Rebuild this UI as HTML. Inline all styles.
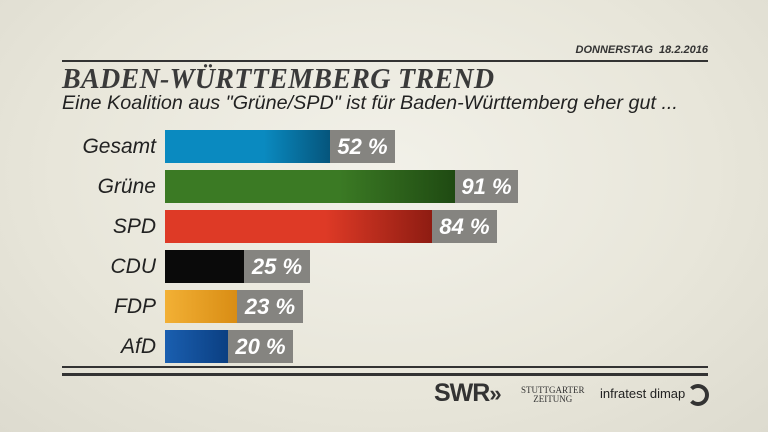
<!DOCTYPE html>
<html><head><meta charset="utf-8"><style>
body{margin:0;width:768px;height:432px;overflow:hidden;font-family:"Liberation Sans",sans-serif;
background:radial-gradient(ellipse at 50% 40%,#f2f1e9 0%,#e8e6da 60%,#dddbcf 100%);position:relative}
.a{position:absolute}
.lab{position:absolute;right:612px;font-style:italic;font-size:21px;color:#222;width:120px;text-align:right}
.bar{position:absolute;left:165px;height:33px}
.box{position:absolute;height:33px;background:#858480;color:#fff;font-style:italic;font-weight:bold;font-size:22px;line-height:33px;text-align:center;width:65px}
</style></head><body>
<div class="a" style="right:60px;top:44px;font-size:11px;font-weight:bold;font-style:italic;color:#333">DONNERSTAG&nbsp; 18.2.2016</div>
<div class="a" style="left:62px;top:60px;width:646px;height:2px;background:#333"></div>
<div class="a" style="left:62px;top:64px;font-family:'Liberation Serif',serif;font-weight:bold;font-style:italic;font-size:28px;color:#3a3a3a;letter-spacing:0.3px">BADEN-WÜRTTEMBERG TREND</div>
<div class="a" style="left:62px;top:93px;font-style:italic;font-size:19px;color:#222;transform:scaleX(1.04);transform-origin:left top;white-space:nowrap">Eine Koalition aus "Grüne/SPD" ist für Baden-Württemberg eher gut ...</div>

<div class="lab" style="top:135px">Gesamt</div>
<div class="bar" style="top:130px;width:165px;background:linear-gradient(90deg,#0a8ac0 60%,#05557c)"></div>
<div class="box" style="left:330px;top:130px">52 %</div>

<div class="lab" style="top:175px">Grüne</div>
<div class="bar" style="top:170px;width:290px;background:linear-gradient(90deg,#3b7a24 60%,#1f4a12)"></div>
<div class="box" style="left:455px;top:170px;width:63px">91 %</div>

<div class="lab" style="top:215px">SPD</div>
<div class="bar" style="top:210px;width:267px;background:linear-gradient(90deg,#de3a26 60%,#8e1c12)"></div>
<div class="box" style="left:432px;top:210px">84 %</div>

<div class="lab" style="top:255px">CDU</div>
<div class="bar" style="top:250px;width:79px;background:#0a0a0a"></div>
<div class="box" style="left:244px;top:250px;width:66px">25 %</div>

<div class="lab" style="top:295px">FDP</div>
<div class="bar" style="top:290px;width:72px;background:linear-gradient(90deg,#f2b035,#d98d14)"></div>
<div class="box" style="left:237px;top:290px;width:66px">23 %</div>

<div class="lab" style="top:335px">AfD</div>
<div class="bar" style="top:330px;width:63px;background:linear-gradient(90deg,#1a5fb0,#0b3f82)"></div>
<div class="box" style="left:228px;top:330px">20 %</div>

<div class="a" style="left:62px;top:366px;width:646px;height:2px;background:#333"></div>
<div class="a" style="left:62px;top:373px;width:646px;height:3px;background:#333"></div>
<div class="a" style="left:434px;top:379px;font-weight:bold;font-size:25px;color:#333;letter-spacing:-1px">SWR<span style="font-size:22px">&#187;</span></div>
<div class="a" style="left:521px;top:386px;font-family:'Liberation Serif',serif;font-size:9px;color:#333;text-align:center;line-height:9px">STUTTGARTER<br>ZEITUNG</div>
<div class="a" style="left:600px;top:386px;font-size:13px;color:#222">infratest dimap</div>
<div class="a" style="left:687px;top:384px;width:14px;height:14px;border:4px solid #333;border-left-color:transparent;border-radius:50%"></div>
</body></html>
